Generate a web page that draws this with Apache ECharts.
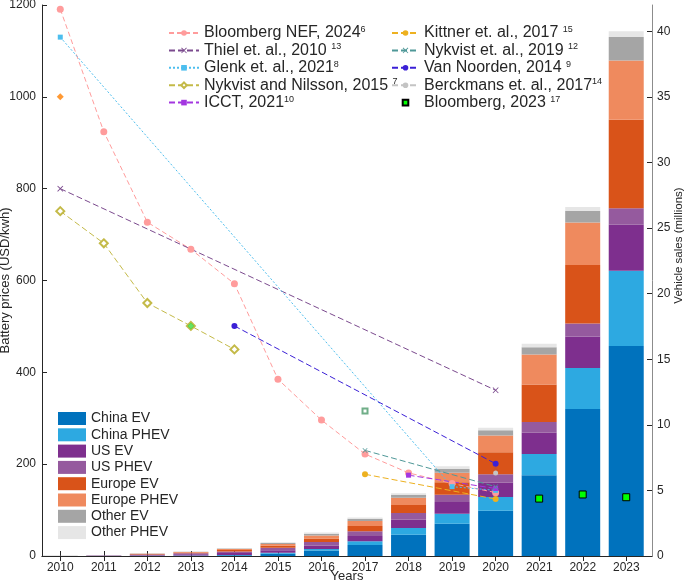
<!DOCTYPE html>
<html>
<head>
<meta charset="utf-8">
<script src="https://cdn.jsdelivr.net/npm/echarts@6/dist/echarts.min.js"></script>
<style>
html,body{margin:0;padding:0;background:#fff;}
#c{width:685px;height:582px;}
</style>
</head>
<body>
<div id="c"></div>
<script>
// ---------- DATA ----------
const years = [2010,2011,2012,2013,2014,2015,2016,2017,2018,2019,2020,2021,2022,2023];
const priceTicks = [0,200,400,600,800,1000,1200];
const salesTicks = [0,5,10,15,20,25,30,35,40];

// Vehicle sales (millions), stacked
const chinaEV   = [0.002,0.005,0.01,0.02,0.05,0.18,0.41,0.84,1.62,2.46,3.45,6.16,11.20,16.00];
const chinaPHEV = [0.000,0.000,0.005,0.01,0.02,0.06,0.12,0.28,0.51,0.76,1.04,1.62,3.13,5.75];
const usEV      = [0.003,0.02,0.05,0.10,0.15,0.20,0.26,0.40,0.63,0.89,1.09,1.62,2.40,3.50];
const usPHEV    = [0.001,0.01,0.05,0.08,0.13,0.18,0.27,0.36,0.51,0.55,0.66,0.82,1.00,1.25];
const europeEV  = [0.002,0.01,0.04,0.05,0.10,0.16,0.28,0.40,0.61,0.97,1.67,2.86,4.46,6.75];
const europePHEV= [0.000,0.002,0.02,0.04,0.08,0.14,0.23,0.38,0.56,0.71,1.27,2.28,3.24,4.52];
const otherEV   = [0.002,0.005,0.015,0.02,0.04,0.07,0.13,0.18,0.22,0.30,0.40,0.56,0.87,1.80];
const otherPHEV = [0.000,0.002,0.01,0.01,0.03,0.05,0.10,0.10,0.13,0.20,0.20,0.25,0.31,0.43];

// Battery prices (USD/kWh): [year, price]
const bnef2024     = [[2010,1191],[2011,924],[2012,727],[2013,668],[2014,593],[2015,385],[2016,296],[2017,222],[2018,181],[2019,158],[2020,138]];
const thiel2010    = [[2010,800],[2020,361]];
const glenk2021    = [[2010,1130],[2019,151],[2020,143]];
const nykvistNilsson2015 = [[2010,751],[2011,681],[2012,551],[2013,501],[2014,450]];
const icct2021     = [[2018,176],[2020,147]];
const kittner2017  = [[2017,178],[2020,124]];
const nykvist2019  = [[2017,230],[2020,151]];
const vanNoorden2014 = [[2014,501],[2020,201]];
const berckmans2017  = [[2020,181]];
const bloomberg2023  = [[2021,125],[2022,134],[2023,128]];
const extraOrange = [[2010,1000]];
const extraGreen  = [[2013,501]];
const extraSquare = [[2017,316]];
const extraCross  = [[2020,191]];

// ---------- CHART ----------
const FONT = 'Liberation Sans, Arial, Helvetica, sans-serif';
const XMARK = 'path://M0,1L1,0L5,4L9,0L10,1L6,5L10,9L9,10L5,6L1,10L0,9L4,5Z';
const cats = years.map(String);
const toCat = arr => arr.map(d => [String(d[0]), d[1]]);

const sup = {
  'Bloomberg NEF, 2024': ['', '6'],
  'Thiel et. al., 2010': [' ', '13'],
  'Glenk et. al., 2021': ['', '8'],
  'Nykvist and Nilsson, 2015': [' ', '7'],
  'ICCT, 2021': ['', '10'],
  'Kittner et. al., 2017': [' ', '15'],
  'Nykvist et. al., 2019': [' ', '12'],
  'Van Noorden, 2014': [' ', '9'],
  'Berckmans et. al., 2017': ['', '14'],
  'Bloomberg, 2023': [' ', '17']
};
function supFmt(name){
  const s = sup[name];
  return s ? name + s[0] + '{s|' + s[1] + '}' : name;
}
const legendText = {
  fontFamily: FONT, fontSize: 16, color: '#262626', lineHeight: 17,
  rich: { s: { fontFamily: FONT, fontSize: 9, color: '#262626', lineHeight: 17, padding: [0,0,7,0] } }
};

function lineSeries(name, data, color, symbol, size, dash) {
  return {
    name: name, type: 'line', xAxisIndex: 0, yAxisIndex: 0, data: toCat(data),
    symbol: symbol, symbolSize: size, showSymbol: true,
    lineStyle: { color: color, width: 1, type: dash },
    itemStyle: { color: color },
    z: 10, silent: true, animation: false
  };
}
function barSeries(name, data, color) {
  return {
    name: name, type: 'bar', stack: 'sales', xAxisIndex: 0, yAxisIndex: 1,
    data: data, barWidth: 35, itemStyle: { color: color },
    z: 2, silent: true, animation: false
  };
}
function extraPoint(name, data, symbol, size, color) {
  return { name: name, type: 'scatter', xAxisIndex: 0, yAxisIndex: 0, data: toCat(data),
    symbol: symbol, symbolSize: size, itemStyle: { color: color }, z: 11, silent: true, animation: false };
}

const axisDark = '#262626';
const chart = echarts.init(document.getElementById('c'), null, { renderer: 'canvas' });
chart.setOption({
  animation: false,
  backgroundColor: '#fff',
  textStyle: { fontFamily: FONT },
  grid: [
    { left: 38.5, right: 37, top: 5, bottom: 26, containLabel: false, outerBoundsMode: 'none' },
    { left: 42, right: 33, top: 5, bottom: 26, containLabel: false, outerBoundsMode: 'none' }
  ],
  xAxis: [{
    // data scale (category, one band per year)
    gridIndex: 0, type: 'category', data: cats, boundaryGap: true, show: false
  }, {
    gridIndex: 1, type: 'value', position: 'bottom', min: 2009.58, max: 2023.59,
    name: 'Years', nameLocation: 'middle', nameGap: 14, nameMoveOverlap: false,
    nameTextStyle: { fontFamily: FONT, fontSize: 13, color: axisDark },
    axisLine: { show: true, lineStyle: { color: '#8c8c8c', width: 1 } },
    axisTick: { show: true, inside: true, length: 5, customValues: years, lineStyle: { color: axisDark } },
    axisLabel: { customValues: years, fontFamily: FONT, fontSize: 12, color: axisDark, margin: 6, formatter: v => String(v) },
    splitLine: { show: false }
  }, {
    gridIndex: 1, type: 'value', position: 'top', min: 2009.58, max: 2023.59,
    axisLine: { show: true, lineStyle: { color: axisDark, width: 1 } },
    axisTick: { show: true, inside: true, length: 5, customValues: years, lineStyle: { color: axisDark } },
    axisLabel: { show: false },
    splitLine: { show: false }
  }],
  yAxis: [{
    gridIndex: 0, type: 'value', position: 'left', min: 0, max: 1200, show: false
  }, {
    gridIndex: 0, type: 'value', position: 'right', min: 0, max: 42, show: false
  }, {
    gridIndex: 1, type: 'value', position: 'left', min: 0, max: 1200,
    name: 'Battery prices (USD/kwh)', nameLocation: 'middle', nameGap: 30, nameRotate: 90, nameMoveOverlap: false,
    nameTextStyle: { fontFamily: FONT, fontSize: 13, color: axisDark },
    axisLine: { show: true, lineStyle: { color: axisDark, width: 1 } },
    axisTick: { show: true, inside: true, length: 5, customValues: priceTicks, lineStyle: { color: axisDark } },
    axisLabel: { customValues: priceTicks, fontFamily: FONT, fontSize: 12, color: axisDark, margin: 6, formatter: v => String(v) },
    splitLine: { show: false }
  }, {
    gridIndex: 1, type: 'value', position: 'right', min: 0, max: 42,
    name: 'Vehicle sales (millions)', nameLocation: 'middle', nameGap: 21, nameRotate: 90, nameMoveOverlap: false,
    nameTextStyle: { fontFamily: FONT, fontSize: 11.5, color: axisDark, padding: [0, 0, 0, 70] },
    axisLine: { show: true, lineStyle: { color: '#8c8c8c', width: 1 } },
    axisTick: { show: true, inside: true, length: 5, customValues: salesTicks, lineStyle: { color: axisDark } },
    axisLabel: { customValues: salesTicks, fontFamily: FONT, fontSize: 12, color: axisDark, margin: 5, formatter: v => String(v) },
    splitLine: { show: false }
  }],
  legend: [{
    orient: 'vertical', left: 163, top: 19.5, itemWidth: 30, itemHeight: 7, itemGap: 0.4,
    data: ['Bloomberg NEF, 2024','Thiel et. al., 2010','Glenk et. al., 2021','Nykvist and Nilsson, 2015','ICCT, 2021'],
    formatter: supFmt, textStyle: legendText, selectedMode: false
  }, {
    orient: 'vertical', left: 386, top: 19.5, itemWidth: 27, itemHeight: 7, itemGap: 0.4,
    data: ['Kittner et. al., 2017','Nykvist et. al., 2019','Van Noorden, 2014','Berckmans et. al., 2017','Bloomberg, 2023'],
    formatter: supFmt, textStyle: legendText, selectedMode: false
  }, {
    orient: 'vertical', left: 53, top: 406.5, itemWidth: 28, itemHeight: 13, itemGap: 2.3,
    icon: 'rect',
    data: ['China EV','China PHEV','US EV','US PHEV','Europe EV','Europe PHEV','Other EV','Other PHEV'],
    textStyle: { fontFamily: FONT, fontSize: 14, color: '#262626', lineHeight: 13 }, selectedMode: false
  }],
  series: [
    barSeries('China EV', chinaEV, '#0072BD'),
    barSeries('China PHEV', chinaPHEV, '#2DA9E1'),
    barSeries('US EV', usEV, '#7E2F8E'),
    barSeries('US PHEV', usPHEV, '#955A9E'),
    barSeries('Europe EV', europeEV, '#D95319'),
    barSeries('Europe PHEV', europePHEV, '#EF8A5E'),
    barSeries('Other EV', otherEV, '#A5A5A5'),
    barSeries('Other PHEV', otherPHEV, '#E6E6E6'),

    lineSeries('Bloomberg NEF, 2024', bnef2024, '#FF9C9C', 'circle', 7, [5,3]),
    lineSeries('Thiel et. al., 2010', thiel2010, '#7B4A8E', XMARK, 6, [6,3]),
    lineSeries('Glenk et. al., 2021', glenk2021, '#4DBEEE', 'rect', 5, [2,2]),
    lineSeries('Nykvist and Nilsson, 2015', nykvistNilsson2015, '#C4BA48', 'emptyDiamond', 8, [6,3]),
    lineSeries('ICCT, 2021', icct2021, '#A336E0', 'rect', 5, [6,3]),
    lineSeries('Kittner et. al., 2017', kittner2017, '#EDB120', 'circle', 6, [6,3]),
    lineSeries('Nykvist et. al., 2019', nykvist2019, '#4F9898', XMARK, 5, [6,3]),
    lineSeries('Van Noorden, 2014', vanNoorden2014, '#3B20D6', 'circle', 6, [6,3]),
    lineSeries('Berckmans et. al., 2017', berckmans2017, '#C4C4C4', 'circle', 5, [6,3]),
    {
      name: 'Bloomberg, 2023', type: 'line', xAxisIndex: 0, yAxisIndex: 0, data: toCat(bloomberg2023),
      symbol: 'rect', symbolSize: 7, showSymbol: true,
      lineStyle: { width: 0, opacity: 0 },
      itemStyle: { color: '#00FF00', borderColor: '#000', borderWidth: 1 },
      z: 11, silent: true, animation: false
    },
    extraPoint('x1', extraOrange, 'diamond', 7, '#FF8000'),
    extraPoint('x2', extraGreen, 'diamond', 7, '#3EDB3E'),
    extraPoint('x3', extraSquare, 'emptyRect', 5, '#4C9A6A'),
    extraPoint('x4', extraCross, XMARK, 5, '#B0504A')
  ]
});
</script>
</body>
</html>
